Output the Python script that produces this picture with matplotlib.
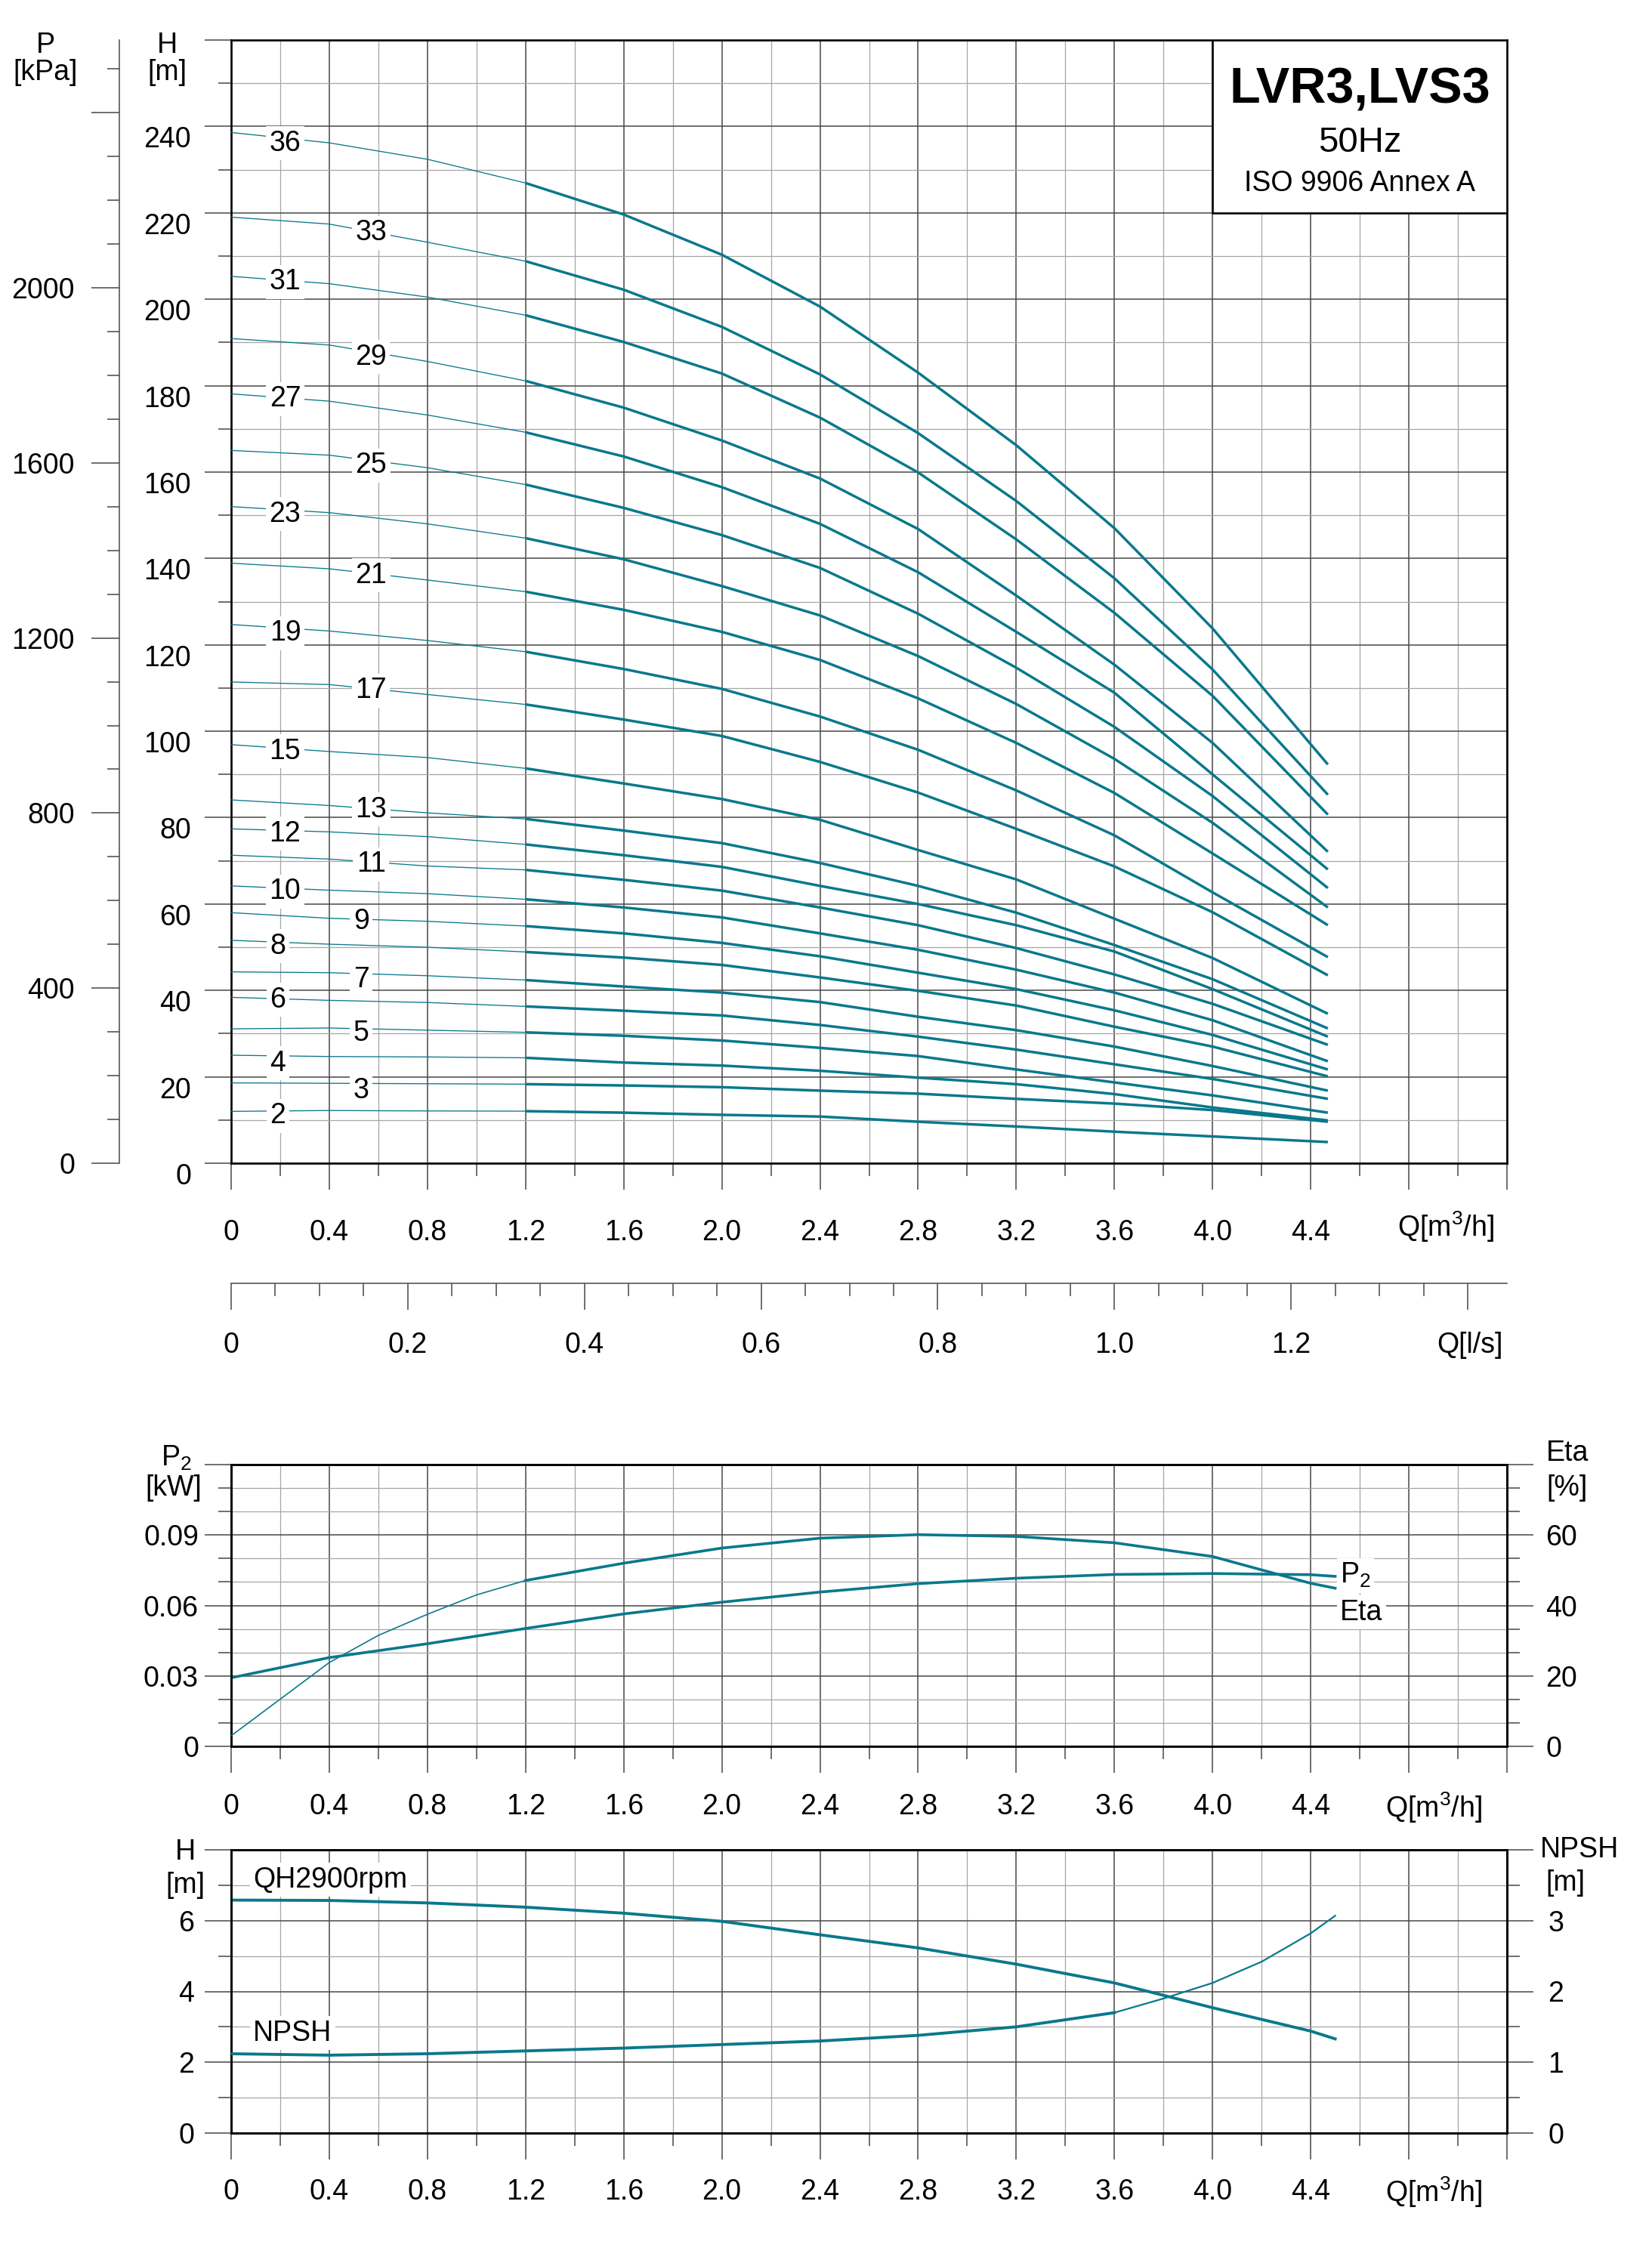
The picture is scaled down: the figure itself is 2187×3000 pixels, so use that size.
import matplotlib
matplotlib.use('Agg')
import matplotlib.pyplot as plt
import matplotlib.transforms as mtrans
from matplotlib.patches import Rectangle
from matplotlib.ticker import FixedLocator, FixedFormatter
import numpy as np

plt.rcParams['font.family'] = ['Liberation Sans', 'DejaVu Sans']
plt.rcParams['mathtext.default'] = 'regular'

W, H = 2187, 3000
TEAL = '#0a788c'
DARK = '#484848'
LIGHT = '#a6a6a6'
FS = 27

# ---- QH curves per number of stages ----
q_pts = [0, 0.4, 0.8, 1.2, 1.6, 2.0, 2.4, 2.8, 3.2, 3.6, 4.0, 4.47]

h36 = [238.6, 236.2, 232.4, 226.9, 219.6, 210.3, 198.3, 183.0, 166.2, 147.0, 123.8, 92.3]
h33 = [219.0, 217.4, 213.2, 208.8, 202.2, 193.6, 182.6, 169.0, 153.3, 135.4, 114.3, 85.3]
h31 = [205.3, 203.6, 200.5, 196.3, 190.1, 182.8, 172.6, 159.9, 144.4, 127.4, 108.2, 80.7]
h29 = [190.9, 189.4, 185.6, 181.1, 174.9, 167.3, 158.5, 146.8, 131.4, 115.4, 97.3, 72.1]
h27 = [178.1, 176.4, 173.2, 169.2, 163.6, 156.5, 148.0, 136.8, 123.0, 108.9, 90.0, 68.0]
h25 = [165.0, 163.9, 161.0, 157.1, 151.7, 145.4, 137.8, 127.2, 114.7, 101.0, 85.0, 63.7]
h23 = [152.0, 150.6, 148.0, 144.7, 139.8, 133.6, 126.8, 117.4, 106.3, 93.6, 78.8, 59.2]
h21 = [138.9, 137.6, 135.0, 132.3, 128.1, 123.0, 116.5, 107.6, 97.3, 85.7, 71.7, 55.1]
h19 = [124.7, 123.2, 121.0, 118.4, 114.4, 109.8, 103.4, 95.7, 86.3, 75.9, 62.7, 47.7]
h17 = [111.4, 110.8, 108.5, 106.2, 102.7, 98.9, 92.9, 85.8, 77.4, 68.7, 58.1, 43.5]
h15 = [96.9, 95.3, 93.9, 91.4, 87.9, 84.3, 79.5, 72.5, 65.7, 56.6, 47.5, 34.6]
h13 = [84.1, 82.8, 81.1, 79.7, 77.0, 74.1, 69.5, 64.2, 58.0, 50.5, 42.6, 31.2]
h12 = [77.4, 76.7, 75.6, 73.8, 71.3, 68.6, 64.2, 60.0, 55.1, 49.0, 40.3, 29.3]
h11 = [71.3, 70.4, 68.8, 67.9, 65.6, 63.1, 59.2, 55.1, 49.8, 43.7, 36.9, 27.4]
h10 = [64.2, 63.2, 62.4, 61.1, 59.2, 56.9, 53.2, 49.4, 44.8, 39.5, 33.1, 23.6]
h09 = [58.0, 56.7, 56.0, 54.9, 53.2, 51.0, 47.9, 44.1, 40.3, 35.4, 29.7, 21.7]
h08 = [51.6, 50.7, 50.0, 48.9, 47.6, 45.9, 43.0, 39.9, 36.5, 31.6, 27.0, 20.1]
h07 = [44.3, 44.1, 43.4, 42.4, 40.9, 39.5, 37.3, 33.9, 30.8, 27.0, 22.5, 16.8]
h06 = [38.4, 37.7, 37.2, 36.3, 35.3, 34.2, 32.0, 29.3, 26.3, 22.9, 19.5, 14.9]
h05 = [31.1, 31.3, 30.8, 30.3, 29.5, 28.4, 26.7, 24.8, 21.7, 18.7, 15.7, 11.7]
h04 = [25.0, 24.7, 24.6, 24.4, 23.3, 22.6, 21.4, 19.8, 18.3, 16.0, 12.9, 9.9]
h03 = [18.6, 18.5, 18.4, 18.3, 18.0, 17.6, 16.8, 16.1, 14.9, 13.8, 12.3, 9.6]
h02 = [12.0, 12.2, 12.1, 12.05, 11.7, 11.2, 10.8, 9.6, 8.5, 7.3, 6.2, 4.9]

stages = [36, 33, 31, 29, 27, 25, 23, 21, 19, 17, 15, 13, 12, 11, 10, 9, 8, 7, 6, 5, 4, 3, 2]
curves = [h36, h33, h31, h29, h27, h25, h23, h21, h19, h17, h15, h13, h12, h11,
          h10, h09, h08, h07, h06, h05, h04, h03, h02]
label_q = [0.22, 0.57, 0.22, 0.57, 0.22, 0.57, 0.22, 0.57, 0.22, 0.57, 0.22, 0.57,
           0.22, 0.57, 0.22, 0.53, 0.19, 0.53, 0.19, 0.53, 0.19, 0.53, 0.19]
label_h = [236.1, 215.4, 204.0, 186.6, 176.9, 161.5, 150.2, 136.1, 122.7, 109.4, 95.3,
           81.9, 76.3, 69.2, 62.9, 55.9, 50.2, 42.5, 37.8, 30.1, 23.1, 16.7, 11.0]

# ---- power / efficiency (one stage) ----
q_p2 = [0, 0.4, 0.8, 1.2, 1.6, 2.0, 2.4, 2.8, 3.2, 3.6, 4.0, 4.4, 4.5]
p2_kw = [0.0292, 0.0378, 0.0437, 0.0502, 0.0564, 0.0614, 0.0657, 0.0693, 0.0716,
         0.0732, 0.0736, 0.0731, 0.0724]
q_eta = [0, 0.2, 0.4, 0.6, 0.8, 1.0, 1.2, 1.6, 2.0, 2.4, 2.8, 3.2, 3.6, 4.0, 4.4, 4.5]
eta_pct = [3.0, 13.4, 23.8, 31.5, 37.5, 43.0, 47.1, 52.0, 56.3, 59.1, 60.1, 59.6,
           57.8, 53.9, 46.3, 44.9]

# ---- single stage head / NPSH ----
q_qh = [0, 0.4, 0.8, 1.2, 1.6, 2.0, 2.4, 2.8, 3.2, 3.6, 4.0, 4.4, 4.5]
qh_m = [6.58, 6.57, 6.50, 6.38, 6.21, 5.98, 5.60, 5.23, 4.77, 4.24, 3.54, 2.88, 2.66]
q_npsh = [0, 0.4, 0.8, 1.2, 1.6, 2.0, 2.4, 2.8, 3.2, 3.6, 3.8, 4.0, 4.2, 4.4, 4.5]
npsh_m = [1.12, 1.10, 1.12, 1.16, 1.20, 1.25, 1.30, 1.38, 1.50, 1.70, 1.90, 2.12,
          2.42, 2.82, 3.07]

q_ticks = ['0', '0.4', '0.8', '1.2', '1.6', '2.0', '2.4', '2.8', '3.2', '3.6', '4.0', '4.4', '', '']
ls_ticks = ['0', '0.2', '0.4', '0.6', '0.8', '1.0', '1.2', '']

KPA_PER_M = 9.87


def rect(top, bottom):
    return [306 / W, 1 - bottom / H, (1995 - 306) / W, (bottom - top) / H]


def ftext(x, y, s, **kw):
    fig.text(x / W, 1 - y / H, s, fontsize=kw.pop('fontsize', FS),
             ha=kw.pop('ha', 'center'), va=kw.pop('va', 'center'), **kw)


def q_axis(a, pad):
    a.set_xlim(0, 5.2)
    a.xaxis.set_major_locator(FixedLocator(np.arange(0, 5.21, 0.4)))
    a.xaxis.set_major_formatter(FixedFormatter(q_ticks))
    a.xaxis.set_minor_locator(FixedLocator(np.arange(0.2, 5.2, 0.4)))
    a.tick_params(axis='x', which='major', length=25, width=1.1, color=DARK,
                  labelsize=FS, pad=pad)
    a.tick_params(axis='x', which='minor', length=12, width=1.1, color=DARK)
    a.grid(which='major', color=DARK, lw=1.1)
    a.grid(which='minor', color=LIGHT, lw=0.9)
    a.set_axisbelow(True)
    for s in a.spines.values():
        s.set_linewidth(1.9)
        s.set_color('black')


def bordered(a, x, y, s, ha='center'):
    a.text(x, y, s, fontsize=FS, ha=ha, va='center', zorder=6,
           bbox=dict(fc='white', ec='none', boxstyle='square,pad=0.12'))


fig = plt.figure(figsize=(W / 100, H / 100), dpi=100)

# ================= main QH chart =================
ax = fig.add_axes(rect(53, 1540))
q_axis(ax, 28)
ax.set_ylim(0, 260)
ax.yaxis.set_major_locator(FixedLocator(np.arange(0, 261, 20)))
ax.yaxis.set_major_formatter(FixedFormatter([str(v) for v in range(0, 241, 20)] + ['']))
ax.yaxis.set_minor_locator(FixedLocator(np.arange(10, 260, 20)))
ax.tick_params(axis='y', which='major', length=25, width=1.1, color=DARK, labelsize=FS, pad=13)
ax.tick_params(axis='y', which='minor', length=12, width=1.1, color=DARK)
plt.setp(ax.get_yticklabels(), va='top')

for n, h, lq, lh in zip(stages, curves, label_q, label_h):
    ax.plot(q_pts[:4], h[:4], color=TEAL, lw=0.95, zorder=3)
    ax.plot(q_pts[3:], h[3:], color=TEAL, lw=2.5, zorder=3, solid_capstyle='butt')
    bordered(ax, lq, lh, str(n))

ax.add_patch(Rectangle((4.0, 220), 1.2, 40, fc='white', ec='black', lw=1.9, zorder=5))
ax.text(4.6, 248.4, 'LVR3,LVS3', fontsize=48, fontweight='bold', ha='center', va='center', zorder=6)
ax.text(4.6, 236.2, '50Hz', fontsize=34, ha='center', va='center', zorder=6)
ax.text(4.6, 226.7, 'ISO 9906 Annex A', fontsize=FS, ha='center', va='center', zorder=6)

tr = mtrans.blended_transform_factory(ax.transData, ax.transAxes)
ax.text(4.95, -(1624 - 1540) / 1487, 'Q[m$^{3}$/h]', transform=tr, fontsize=FS,
        ha='center', va='center')

# pressure axis in kPa
pax = fig.add_axes(rect(53, 1540))
pax.patch.set_visible(False)
for k in ('top', 'right', 'bottom'):
    pax.spines[k].set_visible(False)
pax.spines['left'].set_position(('outward', 106.5))
pax.spines['left'].set_color(DARK)
pax.spines['left'].set_linewidth(1.1)
pax.set_xticks([])
pax.set_ylim(0, 260 * KPA_PER_M)
pax.yaxis.set_major_locator(FixedLocator(np.arange(0, 2401, 400)))
pax.yaxis.set_major_formatter(FixedFormatter(['0', '400', '800', '1200', '1600', '2000', '']))
pax.yaxis.set_minor_locator(FixedLocator(np.arange(100, 2600, 100)))
pax.tick_params(axis='y', which='major', length=26.5, width=1.1, color=DARK, labelsize=FS, pad=16)
pax.tick_params(axis='y', which='minor', length=11.5, width=1.1, color=DARK)

ftext(60, 60, 'P')
ftext(60, 96, '[kPa]')
ftext(221, 60, 'H')
ftext(221, 96, '[m]')

# flow axis in l/s
lax = fig.add_axes([306 / W, 1 - 1699 / H, (1995 - 306) / W, 0.0002])
lax.patch.set_visible(False)
for k in ('top', 'right', 'left'):
    lax.spines[k].set_visible(False)
lax.spines['bottom'].set_color(DARK)
lax.spines['bottom'].set_linewidth(1.1)
lax.set_yticks([])
lax.set_xlim(0, 5.2 / 3.6)
lax.xaxis.set_major_locator(FixedLocator(np.arange(0, 1.41, 0.2)))
lax.xaxis.set_major_formatter(FixedFormatter(ls_ticks))
lax.xaxis.set_minor_locator(FixedLocator([v for v in np.arange(0.05, 1.44, 0.05)
                                          if abs(v / 0.2 - round(v / 0.2)) > 0.01]))
lax.tick_params(axis='x', which='major', length=25, width=1.1, color=DARK, labelsize=FS, pad=21)
lax.tick_params(axis='x', which='minor', length=12, width=1.1, color=DARK)
ftext(1946, 1781, 'Q[l/s]')

# ================= P2 / Eta panel =================
ax2 = fig.add_axes(rect(1939, 2312))
q_axis(ax2, 20)
ax2.set_ylim(0, 0.12)
ax2.yaxis.set_major_locator(FixedLocator([0, 0.03, 0.06, 0.09, 0.12]))
ax2.yaxis.set_major_formatter(FixedFormatter(['0', '0.03', '0.06', '0.09', '']))
ax2.yaxis.set_minor_locator(FixedLocator([0.01, 0.02, 0.04, 0.05, 0.07, 0.08, 0.10, 0.11]))
ax2.tick_params(axis='y', which='major', length=25, width=1.1, color=DARK, labelsize=FS, pad=6)
ax2.tick_params(axis='y', which='minor', length=12, width=1.1, color=DARK)
ax2.plot(q_p2, p2_kw, color=TEAL, lw=2.6, zorder=3)

eax = ax2.twinx()
eax.set_ylim(0, 80)
eax.yaxis.set_major_locator(FixedLocator([0, 20, 40, 60, 80]))
eax.yaxis.set_major_formatter(FixedFormatter(['0', '20', '40', '60', '']))
eax.yaxis.set_minor_locator(FixedLocator([v * 80 / 12 for v in range(1, 12) if v % 3]))
eax.tick_params(axis='y', which='major', length=25, width=1.1, color=DARK, labelsize=FS, pad=12)
eax.tick_params(axis='y', which='minor', length=12, width=1.1, color=DARK)
for s in eax.spines.values():
    s.set_linewidth(1.9)
eax.plot(q_eta[:7], eta_pct[:7], color=TEAL, lw=1.2, zorder=3)
eax.plot(q_eta[6:], eta_pct[6:], color=TEAL, lw=2.6, zorder=3)

bordered(ax2, 4.52, 0.0728, 'P$_{2}$', ha='left')
bordered(ax2, 4.52, 0.0570, 'Eta', ha='left')
ax2.text(4.9, -(2393 - 2312) / 373, 'Q[m$^{3}$/h]', transform=mtrans.blended_transform_factory(
    ax2.transData, ax2.transAxes), fontsize=FS, ha='center', va='center')

ftext(233, 1930, 'P$_{2}$')
ftext(230, 1970, '[kW]')
ftext(2075, 1924, 'Eta')
ftext(2075, 1970, '[%]')

# ================= QH / NPSH panel =================
ax3 = fig.add_axes(rect(2449, 2824))
q_axis(ax3, 18)
ax3.set_ylim(0, 8)
ax3.yaxis.set_major_locator(FixedLocator([0, 2, 4, 6, 8]))
ax3.yaxis.set_major_formatter(FixedFormatter(['0', '2', '4', '6', '']))
ax3.yaxis.set_minor_locator(FixedLocator([1, 3, 5, 7]))
ax3.tick_params(axis='y', which='major', length=25, width=1.1, color=DARK, labelsize=FS, pad=10)
ax3.tick_params(axis='y', which='minor', length=12, width=1.1, color=DARK)
ax3.plot(q_qh, qh_m, color=TEAL, lw=2.8, zorder=3)

nax = ax3.twinx()
nax.set_ylim(0, 4)
nax.yaxis.set_major_locator(FixedLocator([0, 1, 2, 3, 4]))
nax.yaxis.set_major_formatter(FixedFormatter(['0', '1', '2', '3', '']))
nax.yaxis.set_minor_locator(FixedLocator([0.5, 1.5, 2.5, 3.5]))
nax.tick_params(axis='y', which='major', length=25, width=1.1, color=DARK, labelsize=FS, pad=14)
nax.tick_params(axis='y', which='minor', length=12, width=1.1, color=DARK)
for s in nax.spines.values():
    s.set_linewidth(1.9)
nax.plot(q_npsh[:10], npsh_m[:10], color=TEAL, lw=2.8, zorder=3)
nax.plot(q_npsh[9:], npsh_m[9:], color=TEAL, lw=1.6, zorder=3)

bordered(ax3, 0.09, 7.15, 'QH2900rpm', ha='left')
bordered(ax3, 0.09, 2.82, 'NPSH', ha='left')
ax3.text(4.9, -(2902 - 2824) / 375, 'Q[m$^{3}$/h]', transform=mtrans.blended_transform_factory(
    ax3.transData, ax3.transAxes), fontsize=FS, ha='center', va='center')

ftext(245, 2452, 'H')
ftext(245, 2496, '[m]')
ftext(2091, 2449, 'NPSH')
ftext(2072, 2493, '[m]')

fig.savefig('out.png', dpi=100, facecolor='white')
